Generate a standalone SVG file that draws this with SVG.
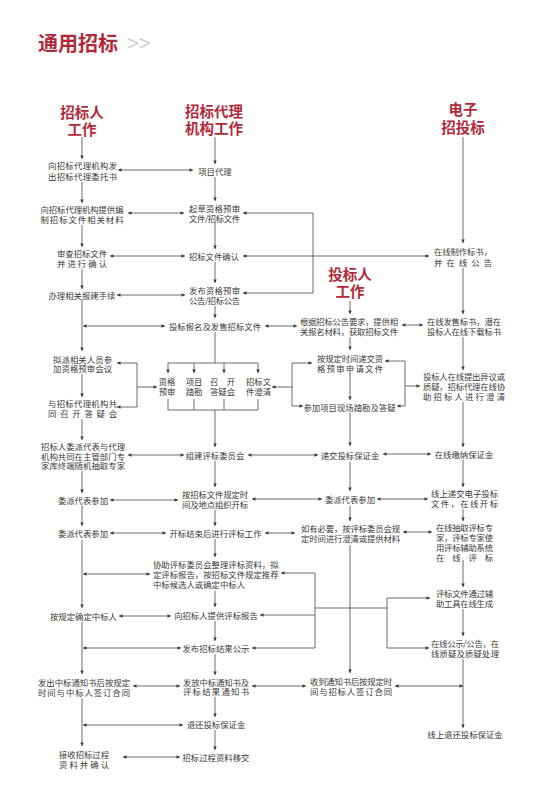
<svg xmlns="http://www.w3.org/2000/svg" width="544" height="801" viewBox="0 0 544 801">
<style>
.t{font-family:"Noto Sans CJK SC","Noto Sans",sans-serif;font-size:8.4px;fill:#3a3a3a;text-anchor:middle;dominant-baseline:central}
.la{text-anchor:start}
.h{font-family:"Noto Sans CJK SC","Noto Sans",sans-serif;font-size:14.5px;font-weight:bold;fill:#b22a3a;text-anchor:middle;dominant-baseline:central}
.l{fill:none;stroke:#4a4a4a;stroke-width:0.8}
.e{marker-end:url(#a)}
.s{marker-start:url(#a)}
.d{marker-start:url(#a);marker-end:url(#a)}
</style>
<defs>
<marker id="a" viewBox="0 0 6 6" refX="6" refY="3" markerWidth="4.5" markerHeight="3.5" markerUnits="userSpaceOnUse" orient="auto-start-reverse">
<path d="M0,0 L6,3 L0,6 z" fill="#3a3a3a"/>
</marker>
</defs>
<rect width="544" height="801" fill="#fff"/>
<g id="title">
<text x="38" y="42" style="font-family:'Noto Sans CJK SC',sans-serif;font-size:20px;font-weight:bold;fill:#b22a3a;dominant-baseline:central">通用招标</text>
<text x="127" y="43" style="font-family:'Liberation Sans',sans-serif;font-size:20px;fill:#cfcfcf;dominant-baseline:central">&gt;&gt;</text>
</g>
<g id="headers">
<text class="h"><tspan x="82" y="111">招标人</tspan><tspan x="82" y="128">工作</tspan></text>
<text class="h"><tspan x="214" y="110">招标代理</tspan><tspan x="214" y="127">机构工作</tspan></text>
<text class="h"><tspan x="463" y="108">电子</tspan><tspan x="463" y="126">招投标</tspan></text>
<text class="h"><tspan x="350" y="273">投标人</tspan><tspan x="350" y="290">工作</tspan></text>
</g>
<g id="connectors">
<path class="l e" d="M82,137V159"/>
<path class="l e" d="M82,182V203"/>
<path class="l e" d="M82,225V247"/>
<path class="l e" d="M82,269V289"/>
<path class="l e" d="M82,300V351"/>
<path class="l e" d="M82,374V397"/>
<path class="l e" d="M82,419V440"/>
<path class="l e" d="M82,471V493"/>
<path class="l e" d="M82,506V526"/>
<path class="l e" d="M82,540V608"/>
<path class="l e" d="M82,622V674"/>
<path class="l e" d="M82,698V746"/>
<path class="l d" d="M83,326H165"/>
<path class="l d" d="M83,574H150"/>
<path class="l d" d="M83,648H181"/>
<path class="l d" d="M83,725H183"/>
<path class="l d" d="M118,170H193"/>
<path class="l d" d="M128,213H184"/>
<path class="l d" d="M110,256H185"/>
<path class="l d" d="M117,295H185"/>
<path class="l d" d="M128,455H184"/>
<path class="l d" d="M110,500H178"/>
<path class="l d" d="M110,533H166"/>
<path class="l d" d="M119,616H171"/>
<path class="l d" d="M133,686H180"/>
<path class="l d" d="M123,757H180"/>
<path class="l d" d="M117,363H137V407H117"/>
<path class="l e" d="M137,387H157"/>
<path class="l e" d="M215,137V164"/>
<path class="l e" d="M215,177V201"/>
<path class="l e" d="M215,223V249"/>
<path class="l e" d="M215,262V283"/>
<path class="l e" d="M215,306V318"/>
<path class="l" d="M215,332V363"/>
<path class="l" d="M168,363H258"/>
<path class="l e" d="M168,363V373"/>
<path class="l e" d="M194,363V373"/>
<path class="l e" d="M224,363V373"/>
<path class="l e" d="M258,363V373"/>
<path class="l" d="M168,399V410H258V399"/>
<path class="l" d="M194,399V410"/>
<path class="l" d="M224,399V410"/>
<path class="l e" d="M215,410V447"/>
<path class="l e" d="M215,461V487"/>
<path class="l e" d="M215,510V526"/>
<path class="l e" d="M215,539V557"/>
<path class="l e" d="M215,591V607"/>
<path class="l e" d="M215,621V641"/>
<path class="l e" d="M215,654V675"/>
<path class="l e" d="M215,697V717"/>
<path class="l e" d="M215,730V750"/>
<path class="l d" d="M243,213H313V293H243"/>
<path class="l d" d="M243,256H429"/>
<path class="l d" d="M265,326H297"/>
<path class="l s" d="M272,387H292"/>
<path class="l d" d="M312,363H292V406H303"/>
<path class="l d" d="M248,455H318"/>
<path class="l d" d="M252,499H322"/>
<path class="l d" d="M265,533H295"/>
<path class="l d" d="M281,573H315V648H252"/>
<path class="l s" d="M260,615H315"/>
<path class="l e" d="M315,608H387V598H430"/>
<path class="l e" d="M387,608V648H429"/>
<path class="l d" d="M252,686H306"/>
<path class="l e" d="M350,301V314"/>
<path class="l e" d="M350,337V350"/>
<path class="l e" d="M350,373V400"/>
<path class="l e" d="M350,413V446"/>
<path class="l e" d="M350,462V491"/>
<path class="l e" d="M350,506V521"/>
<path class="l e" d="M350,545V673"/>
<path class="l d" d="M402,325H423"/>
<path class="l d" d="M385,361H405V406H397"/>
<path class="l e" d="M405,386H420"/>
<path class="l d" d="M383,454H431"/>
<path class="l d" d="M377,499H428"/>
<path class="l d" d="M403,532H432"/>
<path class="l d" d="M395,686H463"/>
<path class="l e" d="M463,137V243"/>
<path class="l e" d="M463,268V314"/>
<path class="l e" d="M463,337V370"/>
<path class="l e" d="M463,402V447"/>
<path class="l e" d="M463,460V487"/>
<path class="l e" d="M463,509V521"/>
<path class="l e" d="M463,560V587"/>
<path class="l e" d="M463,609V636"/>
<path class="l e" d="M463,659V728"/>
</g>
<g id="n1"><text class="t"><tspan x="82.5" y="165" textLength="69">向招标代理机构发</tspan><tspan x="82.5" y="176" textLength="69">出招标代理委托书</tspan></text></g>
<g id="n2"><text class="t"><tspan x="82" y="209" textLength="83">向招标代理机构提供编</tspan><tspan x="82" y="219" textLength="83">制招标文件相关材料</tspan></text></g>
<g id="n3"><text class="t"><tspan x="82" y="253" textLength="50">审查招标文件</tspan><tspan x="82" y="263" textLength="50">并进行确认</tspan></text></g>
<g id="n4"><text class="t" x="82" y="295">办理相关报建手续</text></g>
<g id="n5"><text class="t"><tspan x="82.5" y="359" textLength="59">拟派相关人员参</tspan><tspan x="82.5" y="368" textLength="59">加资格预审会议</tspan></text></g>
<g id="n6"><text class="t"><tspan x="82.5" y="403" textLength="69">与招标代理机构共</tspan><tspan x="82.5" y="413" textLength="69">同召开答疑会</tspan></text></g>
<g id="n7"><text class="t"><tspan x="83" y="446" textLength="84">招标人委派代表与代理</tspan><tspan x="83" y="455.5" textLength="84">机构共同在主管部门专</tspan><tspan x="83" y="465" textLength="84">家库终端随机抽取专家</tspan></text></g>
<g id="n8"><text class="t" x="83" y="500">委派代表参加</text></g>
<g id="n9"><text class="t" x="83" y="533">委派代表参加</text></g>
<g id="n10"><text class="t" x="83.5" y="616">按规定确定中标人</text></g>
<g id="n11"><text class="t"><tspan x="84" y="682" textLength="92">发出中标通知书后按规定</tspan><tspan x="84" y="692" textLength="92">时间与中标人签订合同</tspan></text></g>
<g id="n12"><text class="t"><tspan x="84" y="754" textLength="50">接收招标过程</tspan><tspan x="84" y="764" textLength="50">资料并确认</tspan></text></g>
<g id="m1"><text class="t" x="215" y="171">项目代理</text></g>
<g id="m2"><text class="t"><tspan x="214.5" y="208" textLength="51">起草资格预审</tspan><tspan x="214.5" y="218" textLength="51">文件/招标文件</tspan></text></g>
<g id="m3"><text class="t" x="214" y="256">招标文件确认</text></g>
<g id="m4"><text class="t"><tspan x="214.5" y="290" textLength="51">发布资格预审</tspan><tspan x="214.5" y="300" textLength="51">公告/招标公告</tspan></text></g>
<g id="m5"><text class="t" x="215" y="326">投标报名及发售招标文件</text></g>
<g id="m6a"><text class="t"><tspan x="167" y="381">资格</tspan><tspan x="167" y="391">预审</tspan></text></g>
<g id="m6b"><text class="t"><tspan x="194" y="381">项目</tspan><tspan x="194" y="391">踏勘</tspan></text></g>
<g id="m6c"><text class="t"><tspan x="222.5" y="381" textLength="25">召开</tspan><tspan x="222.5" y="391">答疑会</tspan></text></g>
<g id="m6d"><text class="t"><tspan x="258.5" y="381">招标文</tspan><tspan x="258.5" y="391">件澄清</tspan></text></g>
<g id="m7"><text class="t" x="215" y="455">组建评标委员会</text></g>
<g id="m8"><text class="t"><tspan x="215" y="494" textLength="66">按招标文件规定时</tspan><tspan x="215" y="504" textLength="66">间及地点组织开标</tspan></text></g>
<g id="m9"><text class="t" x="215.5" y="533">开标结束后进行评标工作</text></g>
<g id="m10"><text class="t la"><tspan x="153" y="564">协助评标委员会整理评标资料，拟</tspan><tspan x="153" y="574">定评标报告，按招标文件规定推荐</tspan><tspan x="153" y="584">中标候选人或确定中标人</tspan></text></g>
<g id="m11"><text class="t" x="216" y="615">向招标人提供评标报告</text></g>
<g id="m12"><text class="t" x="216" y="648">发布招标结果公示</text></g>
<g id="m13"><text class="t"><tspan x="216" y="682" textLength="66">发放中标通知书及</tspan><tspan x="216" y="691" textLength="66">评标结果通知书</tspan></text></g>
<g id="m14"><text class="t" x="216" y="724">退还投标保证金</text></g>
<g id="m15"><text class="t" x="216" y="757">招标过程资料移交</text></g>
<g id="b1"><text class="t"><tspan x="349" y="321" textLength="98">根据招标公告要求，提供相</tspan><tspan x="349" y="331" textLength="98">关报名材料，获取招标文件</tspan></text></g>
<g id="b2"><text class="t"><tspan x="350" y="358" textLength="66">按规定时间递交资</tspan><tspan x="350" y="368" textLength="66">格预审申请文件</tspan></text></g>
<g id="b3"><text class="t" x="349.5" y="407">参加项目现场踏勘及答疑</text></g>
<g id="b4"><text class="t" x="350" y="455">递交投标保证金</text></g>
<g id="b5"><text class="t" x="350" y="499">委派代表参加</text></g>
<g id="b6"><text class="t"><tspan x="350.5" y="528" textLength="99">如有必要，按评标委员会规</tspan><tspan x="350.5" y="538" textLength="99">定时间进行澄清或提供材料</tspan></text></g>
<g id="b7"><text class="t"><tspan x="351" y="681" textLength="82">收到通知书后按规定时</tspan><tspan x="351" y="691" textLength="82">间与招标人签订合同</tspan></text></g>
<g id="e1"><text class="t"><tspan x="463" y="251" textLength="58">在线制作标书，</tspan><tspan x="463" y="262" textLength="58">并在线公告</tspan></text></g>
<g id="e2"><text class="t"><tspan x="464" y="321" textLength="74">在线发售标书，潜在</tspan><tspan x="464" y="331" textLength="74">投标人在线下载标书</tspan></text></g>
<g id="e3"><text class="t"><tspan x="464" y="376" textLength="82">投标人在线提出异议或</tspan><tspan x="464" y="386" textLength="82">质疑，招标代理在线协</tspan><tspan x="464" y="396" textLength="82">助招标人进行澄清</tspan></text></g>
<g id="e4"><text class="t" x="464" y="454">在线缴纳保证金</text></g>
<g id="e5"><text class="t"><tspan x="464.5" y="493" textLength="67">线上递交电子投标</tspan><tspan x="464.5" y="503" textLength="67">文件，在线开标</tspan></text></g>
<g id="e6"><text class="t"><tspan x="464.5" y="527" textLength="57">在线抽取评标专</tspan><tspan x="464.5" y="537" textLength="57">家，评标专家使</tspan><tspan x="464.5" y="547" textLength="57">用评标辅助系统</tspan><tspan x="464.5" y="557" textLength="57">在线评标</tspan></text></g>
<g id="e7"><text class="t"><tspan x="464.5" y="593" textLength="57">评标文件通过辅</tspan><tspan x="464.5" y="603" textLength="57">助工具在线生成</tspan></text></g>
<g id="e8"><text class="t"><tspan x="465" y="643" textLength="68">在线公示/公告，在</tspan><tspan x="465" y="653" textLength="68">线质疑及质疑处理</tspan></text></g>
<g id="e9"><text class="t" x="465" y="734">线上退还投标保证金</text></g>
</svg>
